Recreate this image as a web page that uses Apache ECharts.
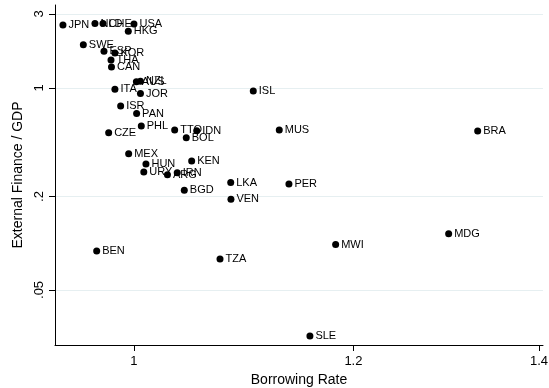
<!DOCTYPE html>
<html>
<head>
<meta charset="utf-8">
<script src="https://cdn.jsdelivr.net/npm/echarts@6/dist/echarts.min.js"></script>
<style>
  html, body { margin: 0; padding: 0; background: #ffffff; }
  #chart { width: 549px; height: 388px; }
</style>
</head>
<body>
<div id="chart"></div>
<script>
// Country codes, borrowing rate (x) and external finance relative to GDP (y)
const countries = [
  'JPN', 'NLD', 'CHE', 'USA', 'HKG', 'SWE', 'ESP', 'KOR', 'THA', 'CAN',
  'AUS', 'NZL', 'ITA', 'JOR', 'ISL', 'ISR', 'PAN', 'PHL', 'CZE', 'TTO',
  'IDN', 'BOL', 'MUS', 'BRA', 'MEX', 'HUN', 'KEN', 'URY', 'ARG', 'IRN',
  'LKA', 'PER', 'BGD', 'VEN', 'MDG', 'MWI', 'TZA', 'BEN', 'SLE'
];
const borrowingRate = [
  0.9427, 0.9681, 0.9746, 1.0000, 0.9953, 0.9588, 0.9754, 0.9843, 0.9811, 0.9815,
  1.0020, 1.0054, 0.9843, 1.0054, 1.1042, 0.9890, 1.0022, 1.0061, 0.9792, 1.0344,
  1.0535, 1.0444, 1.1283, 1.3305, 0.9956, 1.0100, 1.0491, 1.0082, 1.0282, 1.0366,
  1.0837, 1.1374, 1.0427, 1.0839, 1.2988, 1.1824, 1.0741, 0.9695, 1.1574
];
const externalFinance = [
  2.546, 2.604, 2.604, 2.585, 2.319, 1.901, 1.724, 1.681, 1.515, 1.366,
  1.098, 1.105, 0.981, 0.922, 0.957, 0.766, 0.685, 0.569, 0.515, 0.536,
  0.531, 0.478, 0.536, 0.528, 0.377, 0.324, 0.339, 0.288, 0.276, 0.284,
  0.246, 0.241, 0.219, 0.192, 0.115, 0.098, 0.079, 0.089, 0.0252
];

// Axis ticks and their printed labels
const xTicks = [1, 1.2, 1.4];
const xTickLabels = ['1', '1.2', '1.4'];
const yTicks = [0.05, 0.2, 1, 3];
const yTickLabels = ['.05', '.2', '1', '3'];

const points = countries.map((c, i) => [borrowingRate[i], externalFinance[i], c]);

const font = '"Liberation Sans", Arial, Helvetica, sans-serif';
const gridColor = '#e6eff1';

function tickText(ticks, labels) {
  return function (v) {
    for (let i = 0; i < ticks.length; i++) {
      if (Math.abs(ticks[i] - v) / ticks[i] < 1e-6) return labels[i];
    }
    return '';
  };
}

const chart = echarts.init(document.getElementById('chart'), null, { renderer: 'canvas' });

chart.setOption({
  animation: false,
  backgroundColor: '#ffffff',
  grid: { left: 55, right: 6, top: 5, bottom: 43, containLabel: false, outerBoundsMode: 'none' },
  xAxis: {
    type: 'log',
    logBase: Math.E,
    min: 0.9365,
    max: 1.4047,
    name: 'Borrowing Rate',
    nameLocation: 'middle',
    nameGap: 24,
    nameTextStyle: { fontFamily: font, fontSize: 14, color: '#000' },
    axisLine: { show: true, lineStyle: { color: '#000', width: 1 } },
    axisTick: { show: true, length: 6, inside: false, customValues: xTicks, lineStyle: { color: '#000' } },
    axisLabel: {
      customValues: xTicks,
      formatter: tickText(xTicks, xTickLabels),
      fontFamily: font, fontSize: 13, color: '#000', margin: 10
    },
    splitLine: { show: false },
    minorTick: { show: false }
  },
  yAxis: {
    type: 'log',
    logBase: Math.E,
    min: 0.02209,
    max: 3.426,
    name: 'External Finance / GDP',
    nameLocation: 'middle',
    nameGap: 25,
    nameRotate: 90,
    nameTextStyle: { fontFamily: font, fontSize: 14, color: '#000' },
    axisLine: { show: true, lineStyle: { color: '#000', width: 1 } },
    axisTick: { show: true, length: 6, inside: false, customValues: yTicks, lineStyle: { color: '#000' } },
    axisLabel: {
      customValues: yTicks,
      formatter: tickText(yTicks, yTickLabels),
      rotate: 90,
      fontFamily: font, fontSize: 13, color: '#000', margin: 9
    },
    splitLine: { show: true, lineStyle: { color: gridColor, width: 1 } },
    minorTick: { show: false }
  },
  series: [{
    type: 'scatter',
    data: points,
    symbol: 'circle',
    symbolSize: 7,
    itemStyle: { color: '#000', opacity: 1 },
    label: {
      show: true,
      position: 'right',
      distance: 2,
      formatter: p => p.data[2],
      fontFamily: font,
      fontSize: 11,
      color: '#000'
    },
    emphasis: { disabled: true }
  }]
});
</script>
</body>
</html>
